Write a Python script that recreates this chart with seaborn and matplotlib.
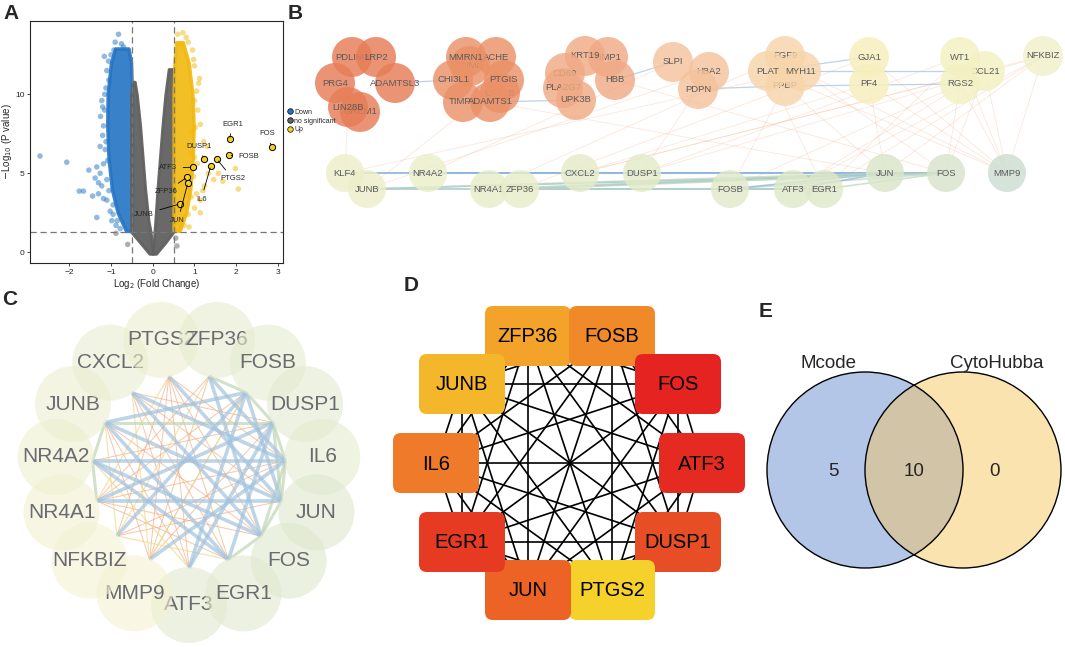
import numpy as np
import pandas as pd
import matplotlib
matplotlib.use("Agg")
import matplotlib.pyplot as plt
import seaborn as sns
from matplotlib.patches import Circle, FancyBboxPatch
from matplotlib.lines import Line2D
from itertools import combinations

sns.set_theme(style="ticks")
plt.rcParams["font.family"] = ["Liberation Sans", "DejaVu Sans"]

# ---------------- data : volcano (A) ----------------
# dense clouds, read as envelopes (y, x-bounds)
down_env_y = [1.35, 2.5, 4.0, 6.0, 8.0, 10.0, 12.0, 12.9]
down_env_outer = [-0.64, -0.84, -0.98, -1.06, -1.09, -1.08, -1.00, -0.90]
down_env_inner = [-0.50, -0.50, -0.50, -0.50, -0.50, -0.50, -0.52, -0.58]

ns_left_y = [-0.1, 0.6, 1.3, 2.0, 4.0, 6.0, 8.0, 10.0, 10.8]
ns_left_outer = [-0.08, -0.30, -0.52, -0.52, -0.52, -0.52, -0.52, -0.52, -0.47]
ns_left_inner = [0.0, -0.02, -0.05, -0.10, -0.18, -0.24, -0.30, -0.38, -0.43]
ns_right_y = [-0.1, 0.6, 1.3, 2.0, 4.0, 6.0, 8.0, 10.0, 11.6]
ns_right_outer = [0.08, 0.30, 0.50, 0.50, 0.50, 0.50, 0.50, 0.50, 0.48]
ns_right_inner = [0.0, 0.02, 0.04, 0.06, 0.11, 0.17, 0.23, 0.30, 0.38]

up_env_y = [1.35, 2.5, 4.0, 6.0, 8.0, 10.0, 12.0, 13.3]
up_env_outer = [0.64, 0.80, 0.90, 0.96, 0.98, 0.95, 0.86, 0.72]
up_env_inner = [0.50, 0.50, 0.50, 0.50, 0.50, 0.50, 0.52, 0.56]

# scattered points outside the dense clouds
down_x = [-2.70, -2.06, -1.53, -1.76, -1.66, -1.44, -1.34, -1.30, -1.18, -1.26, -1.34, -1.02,
          -1.22, -1.38, -1.16, -1.10, -1.22, -1.18, -1.14, -1.26, -0.93, -0.82, -1.06, -1.12,
          -1.20, -1.08, -0.95, -1.30, -1.15, -1.05, -0.98, -0.88, -0.75, -1.10, -1.25,
          -1.15, -1.20, -1.12, -1.18, -1.10, -1.05, -0.95, -0.85, -0.78, -1.00, -0.90, -0.70]
down_y = [6.09, 5.70, 5.20, 3.87, 3.87, 3.56, 5.40, 3.70, 3.40, 5.00, 2.20, 2.60,
          4.20, 4.70, 12.4, 11.5, 9.6, 8.0, 6.5, 6.7, 12.8, 13.8, 12.1, 10.4,
          7.4, 5.8, 3.0, 4.4, 9.0, 10.9, 2.0, 1.7, 13.2, 3.3, 8.6,
          10.0, 9.2, 7.0, 5.6, 4.6, 3.9, 2.4, 2.0, 1.5, 12.5, 13.3, 13.0]
up_x = [0.72, 1.12, 1.10, 1.00, 1.14, 1.30, 1.98, 1.68, 2.05, 1.57, 1.33, 1.24, 1.14, 1.00,
        0.87, 0.66, 1.14, 1.46, 1.07, 1.22, 0.98, 0.95, 1.05, 0.80, 0.90, 1.20, 0.62, 0.68,
        0.95, 1.00, 1.05, 1.08, 1.02, 1.00, 0.98, 0.92, 0.85, 0.75, 0.60, 0.85]
up_y = [13.9, 11.0, 10.7, 9.6, 8.1, 6.7, 5.3, 4.5, 4.0, 5.0, 5.0, 4.2, 3.3, 2.8,
        1.6, 1.5, 2.5, 4.6, 5.6, 7.0, 12.2, 7.6, 3.7, 13.6, 6.3, 3.9, 1.9, 13.1,
        12.8, 11.8, 10.2, 9.0, 7.9, 6.0, 4.8, 3.5, 2.4, 1.7, 13.8, 13.3]
ns_x = [-0.88, 0.55, -0.60, 0.58]
ns_y = [1.2, 0.9, 0.5, 0.4]

hl_genes = ["EGR1", "FOS", "FOSB", "DUSP1", "PTGS2", "IL6", "ATF3", "ZFP36", "JUN", "JUNB"]
hl_x = [1.84, 2.85, 1.83, 1.22, 1.54, 1.39, 0.96, 0.82, 0.84, 0.65]
hl_y = [7.15, 6.68, 6.14, 5.93, 5.88, 5.46, 5.38, 4.75, 4.37, 3.06]

# ---------------- data : networks ----------------
b_nodes = ["GREM1", "PDLIM3", "LRP2", "PRG4", "ADAMTSL3", "LIN28B",
           "TNMD", "ACHE", "MMRN1", "UPK1B", "CHI3L1", "PTGIS", "TIMP3", "ADAMTS1",
           "TIMP1", "KRT19", "HBB", "CD69", "PLA2G7", "UPK3B",
           "HBA2", "SLPI", "PDPN", "FGF9", "PPBP", "PLAT", "MYH11",
           "GJA1", "PF4", "CCL21", "WT1", "RGS2", "NFKBIZ",
           "KLF4", "JUNB", "NR4A2", "NR4A1", "ZFP36", "CXCL2", "DUSP1",
           "FOSB", "ATF3", "EGR1", "JUN", "FOS", "MMP9"]
b_hub_edges = [("JUNB", "FOS"), ("JUNB", "JUN"), ("JUNB", "EGR1"), ("NR4A1", "FOS"),
               ("ZFP36", "JUN"), ("NR4A2", "FOS"), ("KLF4", "JUN"), ("CXCL2", "FOS"),
               ("DUSP1", "JUN"), ("FOSB", "FOS"), ("ATF3", "JUN"), ("EGR1", "FOS"),
               ("ZFP36", "EGR1"), ("DUSP1", "FOS"), ("NR4A2", "JUN"), ("JUNB", "ATF3"),
               ("KLF4", "FOS"), ("NR4A1", "JUN"), ("FOSB", "JUN"), ("ZFP36", "FOS")]
b_top_edges = [("ADAMTSL3", "CHI3L1"), ("ADAMTS1", "UPK3B"), ("HBB", "SLPI"),
               ("PDPN", "PPBP"), ("PPBP", "RGS2"), ("MYH11", "CCL21"), ("PLAT", "GJA1")]
b_cross_edges = [("MMP9", "NFKBIZ"), ("MMP9", "CCL21"), ("MMP9", "WT1"), ("MMP9", "RGS2"),
                 ("MMP9", "PF4"), ("MMP9", "GJA1"), ("MMP9", "MYH11"), ("MMP9", "PLAT"),
                 ("FOS", "RGS2"), ("FOS", "CCL21"), ("JUN", "PF4"), ("JUN", "NFKBIZ"),
                 ("EGR1", "WT1"), ("ATF3", "CCL21"), ("FOSB", "PPBP"), ("DUSP1", "PDPN"),
                 ("CXCL2", "NFKBIZ"), ("CXCL2", "PF4"), ("KLF4", "LIN28B"), ("JUNB", "HBA2"),
                 ("NR4A2", "SLPI"), ("ZFP36", "GJA1"), ("JUN", "PPBP"), ("FOS", "HBB"),
                 ("EGR1", "PLAT"), ("KLF4", "MYH11"), ("NR4A1", "FGF9"), ("CXCL2", "CCL21"),
                 ("JUN", "ADAMTS1"), ("DUSP1", "NFKBIZ"), ("FOS", "MYH11"), ("EGR1", "NFKBIZ"),
                 ("ATF3", "NFKBIZ"), ("JUNB", "PTGIS"), ("DUSP1", "WT1"), ("FOSB", "RGS2")]

c_nodes = ["ZFP36", "FOSB", "DUSP1", "IL6", "JUN", "FOS", "EGR1", "ATF3",
           "MMP9", "NFKBIZ", "NR4A1", "NR4A2", "JUNB", "CXCL2", "PTGS2"]
c_blue_edges = [("CXCL2", "IL6"), ("JUNB", "FOSB"), ("JUNB", "JUN"), ("NR4A2", "FOS"),
                ("NR4A2", "EGR1"), ("NR4A1", "JUN"), ("NR4A1", "DUSP1"), ("MMP9", "IL6"),
                ("ATF3", "FOSB"), ("EGR1", "DUSP1"), ("FOS", "ZFP36"), ("JUN", "FOSB"),
                ("IL6", "ZFP36"), ("JUNB", "EGR1"), ("CXCL2", "FOS"), ("NFKBIZ", "FOSB"),
                ("NR4A2", "IL6"), ("ATF3", "DUSP1"), ("JUN", "PTGS2")]
c_orange_edges = [("PTGS2", "NFKBIZ"), ("PTGS2", "MMP9"), ("CXCL2", "ATF3"), ("CXCL2", "EGR1"),
                  ("ZFP36", "NR4A1"), ("ZFP36", "MMP9"), ("FOSB", "NR4A1"), ("FOSB", "MMP9"),
                  ("DUSP1", "NR4A2"), ("DUSP1", "MMP9"), ("IL6", "NFKBIZ"), ("IL6", "NR4A1"),
                  ("JUN", "NFKBIZ"), ("FOS", "NR4A1"), ("ATF3", "JUNB"), ("MMP9", "JUNB"),
                  ("ATF3", "PTGS2"), ("EGR1", "PTGS2"), ("FOS", "PTGS2"), ("IL6", "PTGS2"),
                  ("DUSP1", "CXCL2"), ("JUN", "CXCL2"), ("EGR1", "NR4A1"), ("FOS", "JUNB")]
c_green_edges = [("JUNB", "NR4A2"), ("NR4A2", "NR4A1"), ("IL6", "JUN"), ("JUN", "FOS"),
                 ("FOS", "EGR1"), ("DUSP1", "IL6"), ("FOSB", "DUSP1"), ("DUSP1", "JUN"),
                 ("ZFP36", "FOSB"), ("JUNB", "DUSP1"), ("FOS", "IL6")]
c_yellow_edges = [("NFKBIZ", "JUNB"), ("MMP9", "CXCL2"), ("NR4A1", "PTGS2"),
                  ("NFKBIZ", "ZFP36"), ("MMP9", "FOSB"), ("ATF3", "NR4A2"), ("NFKBIZ", "EGR1")]

d_nodes = ["ZFP36", "FOSB", "FOS", "ATF3", "DUSP1", "PTGS2", "JUN", "EGR1", "IL6", "JUNB"]
d_colors = ["#F4A32A", "#F08A29", "#E52421", "#E52A22", "#E84E25",
            "#F6D02B", "#EC6325", "#E63A23", "#EF7B2A", "#F4B62B"]

venn_names = ["Mcode", "CytoHubba"]
venn_counts = [5, 10, 0]   # only Mcode, both, only CytoHubba

# ---------------- layout (pixels) ----------------
W, H = 1065, 647
b_pos = {"GREM1": (360, 112), "PDLIM3": (352, 57), "LRP2": (376, 57), "PRG4": (335, 83),
         "ADAMTSL3": (395, 83), "LIN28B": (348, 107),
         "TNMD": (470, 66), "ACHE": (496, 57), "MMRN1": (466, 57), "UPK1B": (500, 93),
         "CHI3L1": (453, 80), "PTGIS": (504, 80), "TIMP3": (463, 102), "ADAMTS1": (490, 102),
         "TIMP1": (608, 57), "KRT19": (585, 56), "HBB": (615, 80), "CD69": (565, 73),
         "PLA2G7": (563, 88), "UPK3B": (576, 100),
         "HBA2": (709, 72), "SLPI": (673, 62), "PDPN": (698, 89),
         "FGF9": (785, 56), "PPBP": (785, 86), "PLAT": (768, 71), "MYH11": (801, 71),
         "GJA1": (869, 57), "PF4": (869, 84), "CCL21": (985, 71), "WT1": (960, 57),
         "RGS2": (960, 84), "NFKBIZ": (1043, 56),
         "KLF4": (345, 173), "JUNB": (367, 189), "NR4A2": (428, 173), "NR4A1": (489, 189),
         "ZFP36": (520, 189), "CXCL2": (580, 173), "DUSP1": (642, 173), "FOSB": (730, 189),
         "ATF3": (793, 189), "EGR1": (824, 189), "JUN": (885, 173), "FOS": (946, 173),
         "MMP9": (1007, 173)}
b_col = {}
for n in ["GREM1", "PDLIM3", "LRP2", "PRG4", "ADAMTSL3", "LIN28B"]:
    b_col[n] = "#E67D57"
for n in ["TNMD", "ACHE", "MMRN1", "UPK1B", "CHI3L1", "PTGIS", "TIMP3", "ADAMTS1"]:
    b_col[n] = "#EB9168"
for n in ["TIMP1", "KRT19", "HBB", "CD69", "PLA2G7", "UPK3B"]:
    b_col[n] = "#F0AA84"
for n in ["HBA2", "SLPI", "PDPN"]:
    b_col[n] = "#F4C29C"
for n in ["FGF9", "PPBP", "PLAT", "MYH11"]:
    b_col[n] = "#F7D5AA"
for n in ["GJA1", "PF4"]:
    b_col[n] = "#F7EFBC"
for n in ["CCL21", "WT1", "RGS2"]:
    b_col[n] = "#F3F1C1"
b_col.update({"NFKBIZ": "#F1F1CA", "KLF4": "#EDEFC9", "JUNB": "#EDEFC9", "NR4A2": "#EBEEC9",
              "NR4A1": "#E8EDC9", "ZFP36": "#E8EDC9", "CXCL2": "#E5EBC9", "DUSP1": "#E4EBC9",
              "FOSB": "#E1E9C9", "ATF3": "#DEE8C9", "EGR1": "#DEE8C9", "JUN": "#DAE6CA",
              "FOS": "#D7E4CC", "MMP9": "#CEDDD1"})

fig = plt.figure(figsize=(W / 100, H / 100), dpi=100)

# ---------------- A : volcano ----------------
axA = fig.add_axes([30 / W, 1 - 263 / H, 253 / W, 242 / H])
c_down, c_ns, c_up = "#2374C4", "#616161", "#F1B80E"
axA.fill_betweenx(down_env_y, down_env_outer, down_env_inner, color=c_down, lw=2.5, alpha=0.9)
axA.fill_betweenx(ns_left_y, ns_left_outer, ns_left_inner, color=c_ns, lw=2, alpha=0.95)
axA.fill_betweenx(ns_right_y, ns_right_inner, ns_right_outer, color=c_ns, lw=2, alpha=0.95)
axA.fill_betweenx(up_env_y, up_env_inner, up_env_outer, color=c_up, lw=2.5, alpha=0.9)

pts = pd.DataFrame({
    "log2fc": down_x + up_x + ns_x,
    "logp": down_y + up_y + ns_y,
    "group": ["Down"] * len(down_x) + ["Up"] * len(up_x) + ["no significant"] * len(ns_x),
})
sns.scatterplot(data=pts, x="log2fc", y="logp", hue="group",
                palette={"Down": c_down, "Up": c_up, "no significant": c_ns},
                s=16, alpha=0.5, linewidth=0, legend=False, ax=axA)
sns.scatterplot(x=hl_x, y=hl_y, color="#F7D117", edgecolor="black", linewidth=0.7,
                s=20, ax=axA, zorder=5)

lab_pos = {"EGR1": (1.91, 8.1), "FOS": (2.73, 7.5), "FOSB": (2.3, 6.05), "DUSP1": (1.11, 6.7),
           "PTGS2": (1.92, 4.64), "IL6": (1.16, 3.35), "ATF3": (0.37, 5.34),
           "ZFP36": (0.32, 3.84), "JUN": (0.6, 1.98), "JUNB": (-0.21, 2.4)}
for g, x, y in zip(hl_genes, hl_x, hl_y):
    axA.annotate(g, xy=(x, y), xytext=lab_pos[g], fontsize=5.5, ha="center", va="center",
                 arrowprops=dict(arrowstyle="-", lw=0.6, color="black", shrinkA=2, shrinkB=1.5),
                 zorder=6)

for v in (-0.5, 0.5):
    axA.axvline(v, color="#777777", ls=(0, (5, 3)), lw=0.9)
axA.axhline(1.3, color="#777777", ls=(0, (5, 3)), lw=0.9)
axA.set_xlim(-2.94, 3.12)
axA.set_ylim(-0.68, 14.64)
axA.set_xticks([-2, -1, 0, 1, 2, 3])
axA.set_yticks([0, 5, 10])
axA.tick_params(labelsize=6, length=2.5, width=0.6, pad=1.5)
for sp in axA.spines.values():
    sp.set_linewidth(0.8)
axA.set_xlabel("Log$_2$ (Fold Change)", fontsize=7, labelpad=1)
axA.set_ylabel("$-$Log$_{10}$ (P value)", fontsize=7, labelpad=1)

handles = [Line2D([], [], marker="o", ls="", markerfacecolor=c, markeredgecolor="black",
                  markeredgewidth=0.5, markersize=4) for c in (c_down, c_ns, "#F7D117")]
fig.legend(handles, ["Down", "no significant", "Up"], loc="upper left",
           bbox_to_anchor=(284 / W, 1 - 106 / H), fontsize=5, frameon=False,
           handletextpad=0.1, labelspacing=0.25, borderaxespad=0, handlelength=1)

# ---------------- overlay for B-E ----------------
ax = fig.add_axes([0, 0, 1, 1])
ax.set_xlim(0, W)
ax.set_ylim(H, 0)
ax.set_axis_off()

# B : network
for a, b in b_cross_edges:
    (x1, y1), (x2, y2) = b_pos[a], b_pos[b]
    ax.plot([x1, x2], [y1, y2], color="#F4B08A", lw=0.6, alpha=0.3, zorder=1)
for i, (a, b) in enumerate(b_hub_edges):
    (x1, y1), (x2, y2) = b_pos[a], b_pos[b]
    ax.plot([x1, x2], [y1, y2], color="#8DB6E0" if i % 2 == 0 else "#BFD8BE",
            lw=1.2, alpha=0.75, zorder=1)
for a, b in b_top_edges:
    (x1, y1), (x2, y2) = b_pos[a], b_pos[b]
    ax.plot([x1, x2], [y1, y2], color="#9EC0E2", lw=0.9, alpha=0.7, zorder=1)

z = 2
for n in b_nodes:
    x, y = b_pos[n]
    r = 19 if y > 150 else 20
    ax.add_patch(Circle((x, y), r, facecolor=b_col[n], edgecolor="none", alpha=0.82, zorder=z))
    ax.text(x, y, n, fontsize=6.8, color="#5A5A5A", ha="center", va="center", zorder=z + 1)
    z += 2

# C : circular network
cx, cy = 189, 471
c_col = ["#E7ECCE", "#E5EBCF", "#E3EACF", "#E4EBCF", "#DEE7CE", "#DFE8CE", "#E2E9CD", "#E1E9CE",
         "#F5F2D1", "#F3F2D1", "#F0F1D1", "#EEF0D0", "#ECEFCF", "#E9EDCF", "#ECEECF"]
c_ang = {n: np.deg2rad(78 - 24 * i) for i, n in enumerate(c_nodes)}


def c_xy(n, rad):
    return cx + rad * np.cos(c_ang[n]), cy - rad * np.sin(c_ang[n])


for edges, col, lw, al in [(c_orange_edges, "#F3A77A", 0.7, 0.65),
                           (c_yellow_edges, "#F0D98E", 0.9, 0.7),
                           (c_green_edges, "#BFD6B4", 2.2, 0.7),
                           (c_blue_edges, "#A3C3DE", 2.6, 0.7)]:
    for a, b in edges:
        x1, y1 = c_xy(a, 97)
        x2, y2 = c_xy(b, 97)
        ax.plot([x1, x2], [y1, y2], color=col, lw=lw, alpha=al, zorder=1,
                solid_capstyle="butt")

z = 100
draw_order = ["ATF3", "MMP9", "NFKBIZ", "NR4A1", "NR4A2", "JUNB", "CXCL2", "PTGS2",
              "ZFP36", "FOSB", "DUSP1", "IL6", "JUN", "FOS", "EGR1"]
for n in draw_order:
    x, y = c_xy(n, 134)
    ax.add_patch(Circle((x, y), 38, facecolor=c_col[c_nodes.index(n)], edgecolor="none",
                        alpha=0.6, zorder=z))
    ax.text(x, y, n, fontsize=15, color="#6A6A70", ha="center", va="center", zorder=z + 1)
    z += 2

# D : hub genes (complete graph)
d_pos = {"ZFP36": (528, 336), "FOSB": (612, 336), "FOS": (678, 384), "ATF3": (702, 463),
         "DUSP1": (678, 542), "PTGS2": (612, 590), "JUN": (528, 590), "EGR1": (462, 542),
         "IL6": (436, 463), "JUNB": (462, 384)}
for a, b in combinations(d_nodes, 2):
    (x1, y1), (x2, y2) = d_pos[a], d_pos[b]
    ax.plot([x1, x2], [y1, y2], color="black", lw=1.2, zorder=150)
for n, col in zip(d_nodes, d_colors):
    x, y = d_pos[n]
    ax.add_patch(FancyBboxPatch((x - 40, y - 27), 80, 54,
                                boxstyle="round,pad=3,rounding_size=8",
                                facecolor=col, edgecolor="none", zorder=160))
    ax.text(x, y + 1, n, fontsize=14.5, color="black", ha="center", va="center", zorder=161)

# E : Venn
vl, vr, vy, vrad = (865, 963, 470, 98)
ax.add_patch(Circle((vl, vy), vrad, facecolor="#B4C6E7", edgecolor="none", zorder=200))
ax.add_patch(Circle((vr, vy), vrad, facecolor="#FAE3AE", edgecolor="none", zorder=200))
ov = Circle((vl, vy), vrad, facecolor="#D2C4A6", edgecolor="none", zorder=201)
ax.add_patch(ov)
clip = Circle((vr, vy), vrad, transform=ax.transData)
ov.set_clip_path(clip)
for x0 in (vl, vr):
    ax.add_patch(Circle((x0, vy), vrad, facecolor="none", edgecolor="black", lw=1.0, zorder=202))
ax.text(828, 363, venn_names[0], fontsize=13.5, ha="center", va="center", zorder=203)
ax.text(997, 363, venn_names[1], fontsize=13.5, ha="center", va="center", zorder=203)
for x0, cnt in zip([833, 914, 995], venn_counts):
    ax.text(x0, 472, str(cnt), fontsize=13.5, ha="center", va="center", zorder=203)

# panel letters
for s, x, y in [("A", 3, 4), ("B", 288, 4), ("C", 2, 290), ("D", 404, 276), ("E", 759, 302)]:
    ax.text(x, y, s, fontsize=15, fontweight="bold", ha="left", va="top", zorder=300)

fig.savefig("out.png", dpi=100)
